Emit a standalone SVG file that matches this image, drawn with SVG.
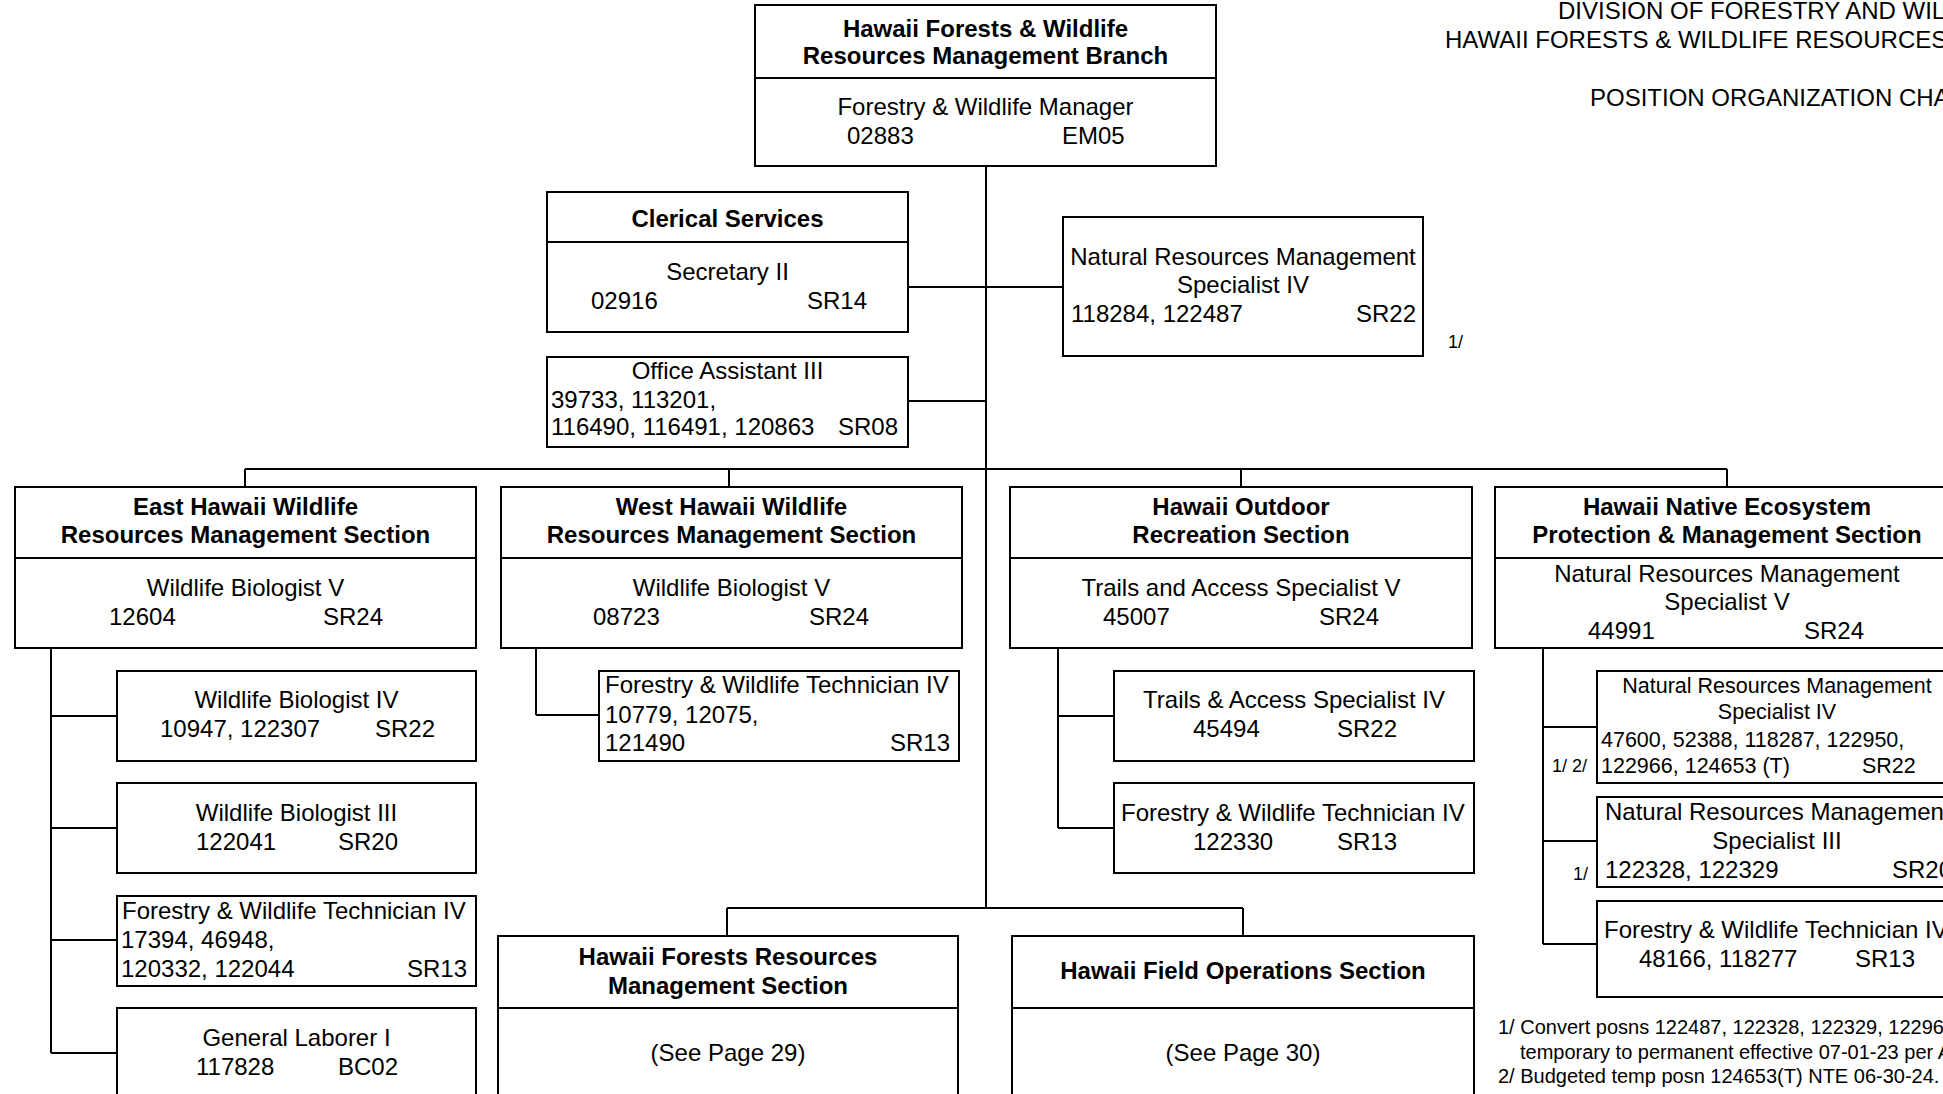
<svg xmlns="http://www.w3.org/2000/svg" width="1943" height="1094" viewBox="0 0 1943 1094">
<style>
.box{fill:#fff;stroke:#000;stroke-width:2}
.div{stroke:#000;stroke-width:2}
.con line{stroke:#000;stroke-width:2}
text{font-family:"Liberation Sans",Arial,sans-serif;fill:#000;font-size:24px}
.b{font-weight:bold}
.c{text-anchor:middle}
.e{text-anchor:end}
.s{font-size:18px}
.f{font-size:20px}
.m{font-size:21.5px}
</style>
<rect width="1943" height="1094" fill="#fff"/>
<g id="header">
<text x="1558" y="19">DIVISION OF FORESTRY AND WIL</text>
<text x="1445" y="48">HAWAII FORESTS &amp; WILDLIFE RESOURCES</text>
<text x="1590" y="106">POSITION ORGANIZATION CHA</text>
</g>
<g class="con" id="connectors">
<line x1="986" y1="166" x2="986" y2="908"/>
<line x1="908" y1="287" x2="1063" y2="287"/>
<line x1="908" y1="401" x2="986" y2="401"/>
<line x1="245" y1="469" x2="1727" y2="469"/>
<line x1="245" y1="469" x2="245" y2="487"/>
<line x1="729" y1="469" x2="729" y2="487"/>
<line x1="1241" y1="469" x2="1241" y2="487"/>
<line x1="1727" y1="469" x2="1727" y2="487"/>
<line x1="51" y1="648" x2="51" y2="1053"/>
<line x1="51" y1="716" x2="117" y2="716"/>
<line x1="51" y1="828" x2="117" y2="828"/>
<line x1="51" y1="940" x2="117" y2="940"/>
<line x1="51" y1="1053" x2="117" y2="1053"/>
<line x1="536" y1="648" x2="536" y2="715"/>
<line x1="536" y1="715" x2="599" y2="715"/>
<line x1="1058" y1="648" x2="1058" y2="828"/>
<line x1="1058" y1="716" x2="1114" y2="716"/>
<line x1="1058" y1="828" x2="1114" y2="828"/>
<line x1="1543" y1="648" x2="1543" y2="944"/>
<line x1="1543" y1="727" x2="1597" y2="727"/>
<line x1="1543" y1="841" x2="1597" y2="841"/>
<line x1="1543" y1="944" x2="1597" y2="944"/>
<line x1="727" y1="908" x2="1243" y2="908"/>
<line x1="727" y1="908" x2="727" y2="936"/>
<line x1="1243" y1="908" x2="1243" y2="936"/>
</g>
<g id="branch">
<rect class="box" x="755" y="5" width="461" height="161"/>
<line class="div" x1="755" y1="78" x2="1216" y2="78"/>
<text class="b c" x="985.5" y="37">Hawaii Forests &amp; Wildlife</text>
<text class="b c" x="985.5" y="64">Resources Management Branch</text>
<text class="c" x="985.5" y="115">Forestry &amp; Wildlife Manager</text>
<text x="847" y="144">02883</text>
<text x="1062" y="144">EM05</text>
</g>
<g id="clerical">
<rect class="box" x="547" y="192" width="361" height="140"/>
<line class="div" x1="547" y1="242" x2="908" y2="242"/>
<text class="b c" x="727.5" y="227">Clerical Services</text>
<text class="c" x="727.5" y="280">Secretary II</text>
<text x="591" y="309">02916</text>
<text x="807" y="309">SR14</text>
</g>
<g id="office-assistant">
<rect class="box" x="547" y="357" width="361" height="90"/>
<text class="c" x="727.5" y="379">Office Assistant III</text>
<text x="551" y="408">39733, 113201,</text>
<text x="551" y="435">116490, 116491, 120863</text>
<text class="e" x="898" y="435">SR08</text>
</g>
<g id="nrms-iv-branch">
<rect class="box" x="1063" y="217" width="360" height="139"/>
<text class="c" x="1243" y="265">Natural Resources Management</text>
<text class="c" x="1243" y="293">Specialist IV</text>
<text x="1071" y="322">118284, 122487</text>
<text class="e" x="1416" y="322">SR22</text>
<text class="s" x="1448" y="348">1/</text>
</g>
<g id="east">
<rect class="box" x="15" y="487" width="461" height="161"/>
<line class="div" x1="15" y1="558" x2="476" y2="558"/>
<text class="b c" x="245.5" y="515">East Hawaii Wildlife</text>
<text class="b c" x="245.5" y="543">Resources Management Section</text>
<text class="c" x="245.5" y="596">Wildlife Biologist V</text>
<text x="109" y="625">12604</text>
<text x="323" y="625">SR24</text>
</g>
<g id="east-wb4">
<rect class="box" x="117" y="671" width="359" height="90"/>
<text class="c" x="296.5" y="708">Wildlife Biologist IV</text>
<text x="160" y="737">10947, 122307</text>
<text x="375" y="737">SR22</text>
</g>
<g id="east-wb3">
<rect class="box" x="117" y="783" width="359" height="90"/>
<text class="c" x="296.5" y="821">Wildlife Biologist III</text>
<text x="196" y="850">122041</text>
<text x="338" y="850">SR20</text>
</g>
<g id="east-fwt">
<rect class="box" x="117" y="896" width="359" height="90"/>
<text x="122" y="919">Forestry &amp; Wildlife Technician IV</text>
<text x="121" y="948">17394, 46948,</text>
<text x="121" y="977">120332, 122044</text>
<text class="e" x="467" y="977">SR13</text>
</g>
<g id="east-gl">
<rect class="box" x="117" y="1008" width="359" height="110"/>
<text class="c" x="296.5" y="1046">General Laborer I</text>
<text x="196" y="1075">117828</text>
<text x="338" y="1075">BC02</text>
</g>
<g id="west">
<rect class="box" x="501" y="487" width="461" height="161"/>
<line class="div" x1="501" y1="558" x2="962" y2="558"/>
<text class="b c" x="731.5" y="515">West Hawaii Wildlife</text>
<text class="b c" x="731.5" y="543">Resources Management Section</text>
<text class="c" x="731.5" y="596">Wildlife Biologist V</text>
<text x="593" y="625">08723</text>
<text x="809" y="625">SR24</text>
</g>
<g id="west-fwt">
<rect class="box" x="599" y="671" width="360" height="90"/>
<text x="605" y="693">Forestry &amp; Wildlife Technician IV</text>
<text x="605" y="723">10779, 12075,</text>
<text x="605" y="751">121490</text>
<text class="e" x="950" y="751">SR13</text>
</g>
<g id="outdoor">
<rect class="box" x="1010" y="487" width="462" height="161"/>
<line class="div" x1="1010" y1="558" x2="1472" y2="558"/>
<text class="b c" x="1241" y="515">Hawaii Outdoor</text>
<text class="b c" x="1241" y="543">Recreation Section</text>
<text class="c" x="1241" y="596">Trails and Access Specialist V</text>
<text x="1103" y="625">45007</text>
<text x="1319" y="625">SR24</text>
</g>
<g id="outdoor-tas4">
<rect class="box" x="1114" y="671" width="360" height="90"/>
<text class="c" x="1294" y="708">Trails &amp; Access Specialist IV</text>
<text x="1193" y="737">45494</text>
<text x="1337" y="737">SR22</text>
</g>
<g id="outdoor-fwt">
<rect class="box" x="1114" y="783" width="360" height="90"/>
<text x="1121" y="821">Forestry &amp; Wildlife Technician IV</text>
<text x="1193" y="850">122330</text>
<text x="1337" y="850">SR13</text>
</g>
<g id="native">
<rect class="box" x="1495" y="487" width="464" height="161"/>
<line class="div" x1="1495" y1="558" x2="1959" y2="558"/>
<text class="b c" x="1727" y="515">Hawaii Native Ecosystem</text>
<text class="b c" x="1727" y="543">Protection &amp; Management Section</text>
<text class="c" x="1727" y="582">Natural Resources Management</text>
<text class="c" x="1727" y="610">Specialist V</text>
<text x="1588" y="639">44991</text>
<text x="1804" y="639">SR24</text>
</g>
<g id="native-nrms4">
<rect class="box" x="1597" y="671" width="360" height="112"/>
<text class="c m" x="1777" y="693">Natural Resources Management</text>
<text class="c m" x="1777" y="719">Specialist IV</text>
<text class="m" x="1601" y="747">47600, 52388, 118287, 122950,</text>
<text class="m" x="1601" y="773">122966, 124653 (T)</text>
<text class="m" x="1862" y="773">SR22</text>
<text class="s" x="1552" y="772">1/ 2/</text>
</g>
<g id="native-nrms3">
<rect class="box" x="1597" y="797" width="360" height="90"/>
<text x="1605" y="820">Natural Resources Managemen</text>
<text class="c" x="1777" y="849">Specialist III</text>
<text x="1605" y="878">122328, 122329</text>
<text x="1892" y="878">SR20</text>
<text class="s" x="1573" y="880">1/</text>
</g>
<g id="native-fwt">
<rect class="box" x="1597" y="901" width="360" height="96"/>
<text x="1604" y="938">Forestry &amp; Wildlife Technician IV</text>
<text x="1639" y="967">48166, 118277</text>
<text x="1855" y="967">SR13</text>
</g>
<g id="forests">
<rect class="box" x="498" y="936" width="460" height="180"/>
<line class="div" x1="498" y1="1008" x2="958" y2="1008"/>
<text class="b c" x="728" y="965">Hawaii Forests Resources</text>
<text class="b c" x="728" y="994">Management Section</text>
<text class="c" x="728" y="1061">(See Page 29)</text>
</g>
<g id="field-ops">
<rect class="box" x="1012" y="936" width="462" height="180"/>
<line class="div" x1="1012" y1="1008" x2="1474" y2="1008"/>
<text class="b c" x="1243" y="979">Hawaii Field Operations Section</text>
<text class="c" x="1243" y="1061">(See Page 30)</text>
</g>
<g id="footnotes">
<text class="f" x="1498" y="1034">1/ Convert posns 122487, 122328, 122329, 12296</text>
<text class="f" x="1520" y="1059">temporary to permanent effective 07-01-23 per A</text>
<text class="f" x="1498" y="1083">2/ Budgeted temp posn 124653(T) NTE 06-30-24.</text>
</g>
</svg>
